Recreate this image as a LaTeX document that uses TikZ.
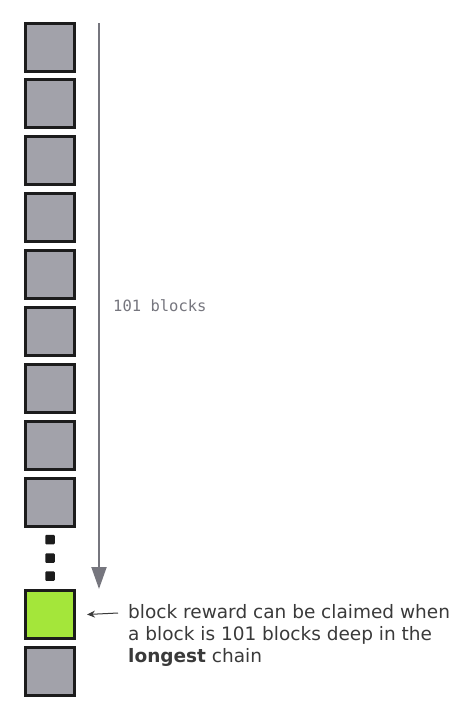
\documentclass[tikz,border=0pt]{standalone}
\usepackage{fontspec}
\setmainfont{DejaVu Sans}
\setmonofont{DejaVu Sans Mono}
\usetikzlibrary{arrows.meta,positioning}
\definecolor{blockgray}{HTML}{A2A2AA}
\definecolor{rewardgreen}{HTML}{A4E63A}
\definecolor{edgeblack}{HTML}{1C1C1C}
\definecolor{arrowgray}{HTML}{76767E}
\definecolor{textgray}{HTML}{3A3A3A}
\tikzset{
  block/.style={draw=edgeblack,line width=3pt,fill=blockgray,minimum width=49pt,minimum height=48pt,inner sep=0pt},
  dotbox/.style={fill=edgeblack,minimum size=9.5pt,inner sep=0pt,rounded corners=1pt},
}
\begin{document}
\begin{tikzpicture}[x=1pt,y=-1pt]
\useasboundingbox (0,0) rectangle (476,718);
% Drawing the chain of blocks
\foreach \i in {1,...,9}
  \node[block] (b\i) at (50,47+56.9*\i-56.9) {};
% Drawing the dots
\node[dotbox] (d1) at (50,539.5) {};
\node[dotbox] (d2) at (50,558) {};
\node[dotbox] (d3) at (50,576) {};
% Drawing the reward block and the one after it
\node[block,fill=rewardgreen] (reward) at (50,614.5) {};
\node[block] (b11) at (50,671.5) {};
% Done with blocks; drawing the depth arrow
\coordinate (top) at (99,23);
\coordinate (tip) at (99,589);
\draw[arrowgray,line width=2pt,-{Triangle[width=15pt,length=22pt]}] (top) -- (tip);
\node[anchor=west,font=\ttfamily\fontsize{15.5}{18}\selectfont,text=arrowgray,inner sep=0pt] (depth) at (113,306) {101 blocks};
% Drawing the note
\node[anchor=north west,align=left,font=\fontsize{18.5}{22}\selectfont,text=textgray,inner sep=0pt] (note) at (128,604)
  {block reward can be claimed when\\a block is 101 blocks deep in the\\\textbf{longest} chain};
\coordinate (from) at (118,613);
\coordinate (to) at ([xshift=11pt]reward.east);
\draw[textgray,line width=1pt,-{Stealth[length=8pt,width=7pt]}] (from) -- (to);
\end{tikzpicture}
\end{document}
